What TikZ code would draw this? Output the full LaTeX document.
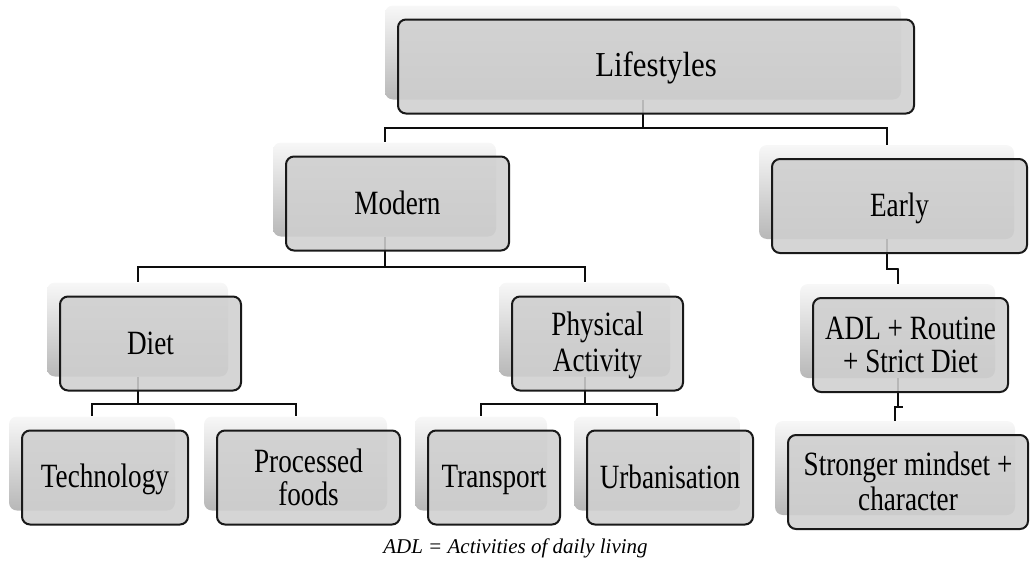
\documentclass[tikz,border=0pt]{standalone}
\usepackage{fontspec}
\setmainfont{Liberation Serif}
\newfontfamily\boxfont{Liberation Serif}[FakeStretch=0.8]
\newfontfamily\topfont{Liberation Serif}[FakeStretch=0.88]
\usetikzlibrary{calc}
\pgfdeclarelayer{back}
\pgfdeclarelayer{mid}
\pgfsetlayers{back,mid,main}
\newcommand\lnst{\rule[-5.5pt]{0pt}{33pt}}
\newcommand\mkbox[6]{%
  \begin{pgfonlayer}{back}
    \node[backbox, minimum width=#4pt] (#1-s) at (#2-13,#3-14) {};
  \end{pgfonlayer}
  \node[mainbox, minimum width=#4pt, font=#5] (#1) at (#2,#3) {#6};}
\begin{document}
\begin{tikzpicture}[x=1pt,y=-1pt,
  mainbox/.style={draw=black!90, line width=2pt, rounded corners=8pt,
    fill=black!19, fill opacity=0.88, text opacity=1, minimum height=94pt,
    inner sep=0pt, align=center},
  backbox/.style={rounded corners=8pt, top color=black!3, bottom color=black!28,
    minimum height=94pt, inner sep=0pt},
  link/.style={draw=black!95, line width=2pt},
]
\useasboundingbox (0,0) rectangle (1031,570);
\def\bfn{\boxfont\fontsize{34}{33}\selectfont}
\mkbox{life}{656}{66.5}{516}{\topfont\fontsize{35}{33}\selectfont}{\lnst Lifestyles}
\mkbox{mod}{397.5}{203.5}{223}{\bfn}{\lnst Modern}
\mkbox{early}{899.5}{206}{255}{\bfn}{\lnst Early}
\mkbox{diet}{150.5}{343.5}{181}{\bfn}{\lnst Diet}
\mkbox{phys}{597.5}{343.5}{171}{\bfn}{\lnst Physical\\\lnst Activity}
\mkbox{adl}{910.5}{345}{195}{\bfn}{\lnst ADL + Routine\\\lnst + Strict Diet}
\mkbox{tech}{105}{477.5}{166}{\bfn}{\lnst Technology}
\mkbox{proc}{308.5}{477.5}{183}{\bfn}{\lnst Processed\\\lnst foods}
\mkbox{trans}{494}{477.5}{132}{\bfn}{\lnst Transport}
\mkbox{urb}{670}{477.5}{166}{\bfn}{\lnst Urbanisation}
\mkbox{strong}{908}{482}{240}{\bfn}{\lnst Stronger mindset +\\\lnst character}
\begin{pgfonlayer}{mid}
\coordinate (j1) at ($(life.south)!.5!(mod-s.north)$);
\draw[link] (life-s.south) |- (j1) -| (mod-s.north);
\draw[link] (j1) -| (early-s.north);
\coordinate (j2) at ($(mod.south)!.5!(diet-s.north)$);
\draw[link] (mod-s.south) |- (j2) -| (diet-s.north);
\draw[link] (j2) -| (phys-s.north);
\coordinate (j3) at ($(diet.south)!.5!(tech-s.north)$);
\draw[link] (diet-s.south) |- (j3) -| (tech-s.north);
\draw[link] (j3) -| (proc-s.north);
\coordinate (j4) at ($(phys.south)!.5!(trans-s.north)$);
\draw[link] (phys-s.south) |- (j4) -| (trans-s.north);
\draw[link] (j4) -| (urb-s.north);
\coordinate (j5) at ($(early.south)!.5!(adl-s.north)$);
\draw[link] (early-s.south) |- (j5) -| (adl-s.north);
\coordinate (j6) at ($(adl.south)!.5!(strong-s.north)$);
\draw[link] (adl-s.south) |- (j6) -| (strong-s.north);
\end{pgfonlayer}
\node[font=\fontsize{21}{21}\selectfont\itshape] (cap) at (515.5,548) {ADL = Activities of daily living};
\end{tikzpicture}
\end{document}
